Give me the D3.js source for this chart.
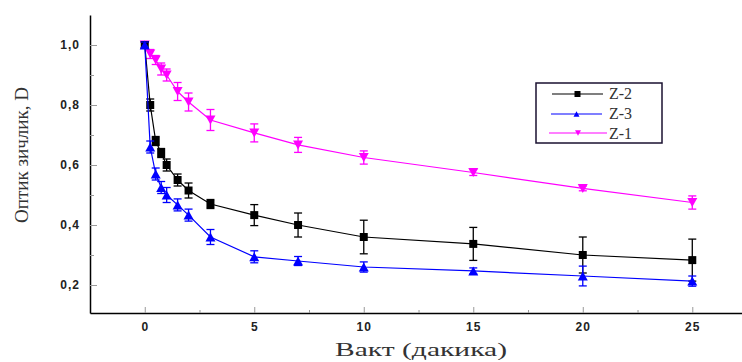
<!DOCTYPE html>
<html>
<head>
<meta charset="utf-8">
<script src="https://cdn.jsdelivr.net/npm/d3@7"></script>
<style>
  body { margin: 0; background: #fff; }
  svg { display: block; }
</style>
</head>
<body>
<div id="chart"></div>
<script>
// time points (minutes)
const times = [0, 0.25, 0.5, 0.75, 1, 1.5, 2, 3, 5, 7, 10, 15, 20, 25];

// optical density, mean values
const z2Values = [1.0, 0.80, 0.68, 0.64, 0.60, 0.55, 0.515, 0.47, 0.433, 0.40, 0.36, 0.337, 0.30, 0.283];
const z3Values = [1.0, 0.66, 0.57, 0.525, 0.50, 0.467, 0.433, 0.36, 0.294, 0.28, 0.26, 0.247, 0.23, 0.213];
const z1Values = [1.0, 0.97, 0.95, 0.92, 0.90, 0.845, 0.81, 0.75, 0.707, 0.667, 0.625, 0.575, 0.522, 0.475];

// error bar half-widths
const z2Errors = [0.01, 0.02, 0.015, 0.015, 0.02, 0.02, 0.025, 0.015, 0.035, 0.04, 0.056, 0.055, 0.06, 0.07];
const z3Errors = [0.01, 0.02, 0.02, 0.02, 0.025, 0.02, 0.02, 0.025, 0.02, 0.015, 0.017, 0.01, 0.033, 0.017];
const z1Errors = [0.01, 0.015, 0.015, 0.02, 0.02, 0.03, 0.03, 0.035, 0.03, 0.025, 0.022, 0.01, 0.008, 0.022];

const xTicks = [0, 5, 10, 15, 20, 25];
const xMinorTicks = [2.5, 7.5, 12.5, 17.5, 22.5];
const yTicks = [0.2, 0.4, 0.6, 0.8, 1.0];
const yMinorTicks = [0.3, 0.5, 0.7, 0.9];

const legendNames = ['Z-2', 'Z-3', 'Z-1'];

const W = 742, H = 362;
const margin = { top: 15, right: 0, bottom: 49, left: 90 };
const width = W - margin.left - margin.right;
const height = H - margin.top - margin.bottom;

const svg = d3.select('#chart')
  .append('svg')
  .attr('width', W)
  .attr('height', H);

const g = svg.append('g')
  .attr('transform', `translate(${margin.left},${margin.top})`);

const x = d3.scaleLinear().domain([-2.5, 27.27]).range([0, width]);
const y = d3.scaleLinear().domain([0.1067, 1.1]).range([height, 0]);

const fmt = d => d3.format('.1f')(d).replace('.', ',');

// axes
g.append('g')
  .attr('transform', `translate(0,${height})`)
  .call(d3.axisBottom(x).tickValues(xTicks).tickSize(-6).tickSizeOuter(0).tickPadding(9).tickFormat(d3.format('d')));
g.append('g')
  .attr('transform', `translate(0,${height})`)
  .call(d3.axisBottom(x).tickValues(xMinorTicks).tickSize(-3).tickSizeOuter(0).tickFormat(''))
  .select('.domain').remove();

g.append('g')
  .call(d3.axisLeft(y).tickValues(yTicks).tickSize(-7).tickSizeOuter(0).tickPadding(10).tickFormat(fmt));
g.append('g')
  .call(d3.axisLeft(y).tickValues(yMinorTicks).tickSize(-4).tickSizeOuter(0).tickFormat(''))
  .select('.domain').remove();

g.selectAll('.tick line').attr('stroke', '#999');
g.selectAll('.domain').attr('stroke', '#000').attr('stroke-width', 1.5);
g.selectAll('.tick text')
  .attr('fill', '#222')
  .style('font-family', '"Liberation Sans", Arial, sans-serif')
  .style('font-weight', 'bold')
  .style('font-size', '12px')
  .style('letter-spacing', '1px');

// axis titles
svg.append('text')
  .attr('x', 421)
  .attr('y', 356)
  .attr('text-anchor', 'middle')
  .attr('textLength', 172)
  .attr('lengthAdjust', 'spacingAndGlyphs')
  .style('font-family', '"Liberation Serif", "Times New Roman", serif')
  .style('font-size', '18px')
  .attr('fill', '#333')
  .text('Вакт (дакика)');

svg.append('text')
  .attr('transform', 'translate(28,155) rotate(-90)')
  .attr('text-anchor', 'middle')
  .attr('textLength', 136)
  .attr('lengthAdjust', 'spacingAndGlyphs')
  .style('font-family', '"Liberation Serif", "Times New Roman", serif')
  .style('font-size', '18px')
  .attr('fill', '#333')
  .text('Оптик зичлик, D');

// series
const series = [
  { name: 'Z-1', values: z1Values, errors: z1Errors, color: '#ff00ff', symbol: 'down' },
  { name: 'Z-2', values: z2Values, errors: z2Errors, color: '#000000', symbol: 'square' },
  { name: 'Z-3', values: z3Values, errors: z3Errors, color: '#0000ff', symbol: 'up' }
];

const markerPath = (type, s) => {
  if (type === 'square') return d3.symbol(d3.symbolSquare, s * s)();
  const h = s * 0.9;
  if (type === 'up') return `M0,${-h / 2}L${s / 2},${h / 2}L${-s / 2},${h / 2}Z`;
  return `M0,${h / 2}L${s / 2},${-h / 2}L${-s / 2},${-h / 2}Z`;
};

const line = d3.line().x(d => x(d.t)).y(d => y(d.v));

series.forEach(s => {
  const data = times.map((t, i) => ({ t, v: s.values[i], e: s.errors[i] }));
  const sg = g.append('g');

  sg.append('path')
    .datum(data)
    .attr('fill', 'none')
    .attr('stroke', s.color)
    .attr('stroke-width', 1.2)
    .attr('d', line);

  const eb = sg.selectAll('.err')
    .data(data)
    .enter()
    .append('g');
  eb.append('line')
    .attr('x1', d => x(d.t)).attr('x2', d => x(d.t))
    .attr('y1', d => y(d.v - d.e)).attr('y2', d => y(d.v + d.e))
    .attr('stroke', s.color).attr('stroke-width', 1.3);
  eb.append('line')
    .attr('x1', d => x(d.t) - 4).attr('x2', d => x(d.t) + 4)
    .attr('y1', d => y(d.v - d.e)).attr('y2', d => y(d.v - d.e))
    .attr('stroke', s.color).attr('stroke-width', 1.3);
  eb.append('line')
    .attr('x1', d => x(d.t) - 4).attr('x2', d => x(d.t) + 4)
    .attr('y1', d => y(d.v + d.e)).attr('y2', d => y(d.v + d.e))
    .attr('stroke', s.color).attr('stroke-width', 1.3);

  sg.selectAll('.mk')
    .data(data)
    .enter()
    .append('path')
    .attr('transform', d => `translate(${x(d.t)},${y(d.v)})`)
    .attr('d', markerPath(s.symbol, s.symbol === 'square' ? 8 : 10))
    .attr('fill', s.color);
});

// legend
const legend = svg.append('g');
legend.append('rect')
  .attr('x', 536).attr('y', 83)
  .attr('width', 126).attr('height', 60)
  .attr('fill', '#fff')
  .attr('stroke', '#1a1030')
  .attr('stroke-width', 1.5);

const legendRows = [
  { lineY: 94, textY: 99, x1: 552, x2: 603 },
  { lineY: 114, textY: 119, x1: 551, x2: 602 },
  { lineY: 133, textY: 139, x1: 549, x2: 607 }
];

legendNames.forEach((name, i) => {
  const s = series.find(d => d.name === name);
  const r = legendRows[i];
  legend.append('line')
    .attr('x1', r.x1).attr('x2', r.x2)
    .attr('y1', r.lineY).attr('y2', r.lineY)
    .attr('stroke', s.color).attr('stroke-width', 1.2);
  legend.append('path')
    .attr('transform', `translate(${(r.x1 + r.x2) / 2},${r.lineY})`)
    .attr('d', markerPath(s.symbol, 6))
    .attr('fill', s.color);
  legend.append('text')
    .attr('x', 609).attr('y', r.textY)
    .style('font-family', '"Liberation Serif", "Times New Roman", serif')
    .style('font-size', '16px')
    .attr('fill', '#333')
    .text(name);
});
</script>
</body>
</html>
